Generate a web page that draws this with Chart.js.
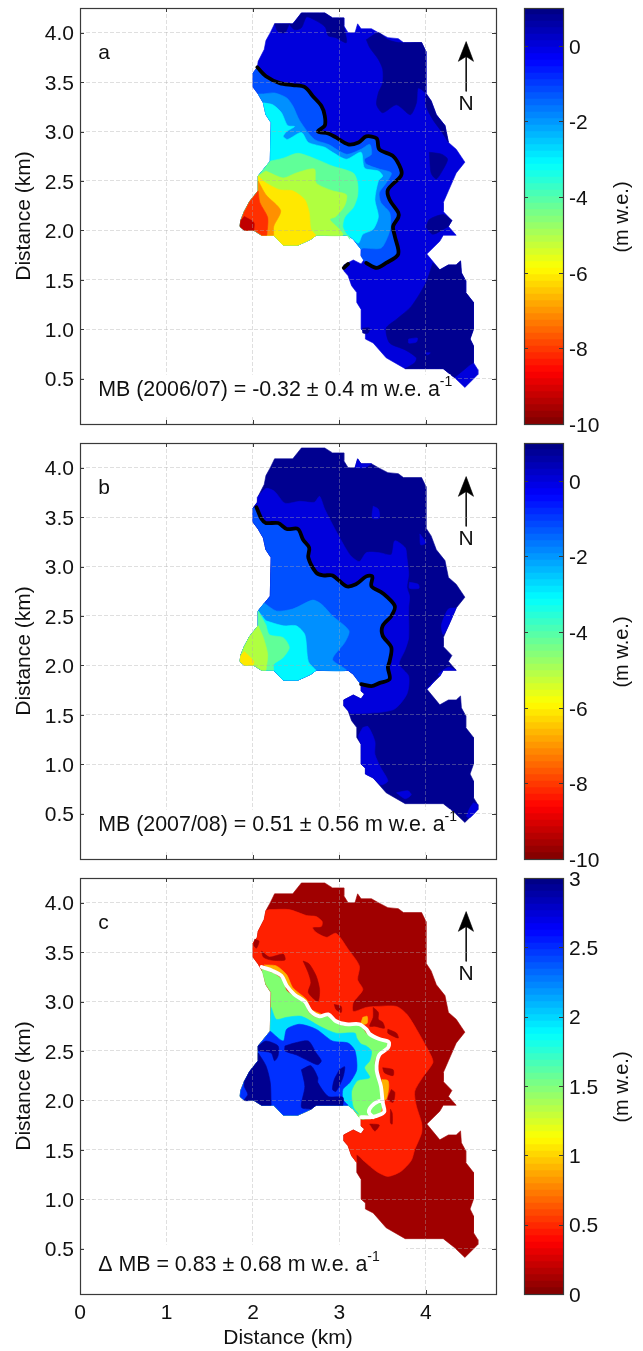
<!DOCTYPE html>
<html>
<head>
<meta charset="utf-8">
<title>Glacier mass balance maps</title>
<script src="https://cdn.jsdelivr.net/npm/chart.js@4"></script>
<style>
body { margin: 0; background: #fff; }
canvas { position: absolute; }
</style>
</head>
<body>
<canvas id="mapA" width="500" height="430" style="left:0;top:0"></canvas>
<canvas id="barA" width="138" height="440" style="left:505px;top:0"></canvas>
<canvas id="mapB" width="500" height="430" style="left:0;top:435px"></canvas>
<canvas id="barB" width="138" height="440" style="left:505px;top:435px"></canvas>
<canvas id="mapC" width="500" height="481" style="left:0;top:870px"></canvas>
<canvas id="barC" width="138" height="440" style="left:505px;top:870px"></canvas>
<script>
// Axis ticks
const xTicks = [0, 1, 2, 3, 4];
const yTicks = [0.5, 1.0, 1.5, 2.0, 2.5, 3.0, 3.5, 4.0];
const barTicksAB = [-10, -8, -6, -4, -2, 0];
const barTicksC = [0, 0.5, 1, 1.5, 2, 2.5, 3];

// a doubled point makes a hard corner in the spline, the glacier edge needs that
const sharp = list => list.flatMap(p => [p, p]);

// Glacier outline in km, split so the contour bands can share its edges
const rimEast = sharp([[2.56,4.20],[2.83,4.20],[2.92,4.15],[3.05,4.15],[3.05,4.07],[3.10,4.00],[3.18,4.00],[3.21,4.09],[3.25,4.04],[3.37,4.04],[3.45,4.00],[3.56,3.95],[3.68,3.94],[3.74,3.90],[3.95,3.90],[4.00,3.81],[4.00,3.39],[4.06,3.31],[4.12,3.17],[4.22,3.06],[4.26,2.89],[4.35,2.82],[4.45,2.69],[4.35,2.58],[4.26,2.40],[4.20,2.28],[4.20,2.19],[4.30,2.10],[4.26,2.04],[4.35,1.95],[4.20,1.95],[4.16,1.89],[4.01,1.76],[4.16,1.60],[4.26,1.65],[4.35,1.65],[4.40,1.69],[4.41,1.57],[4.46,1.49],[4.46,1.37],[4.55,1.27],[4.55,1.00],[4.51,0.90],[4.55,0.83],[4.55,0.66],[4.60,0.59],[4.60,0.54],[4.45,0.41],[4.33,0.51],[4.20,0.60],[3.76,0.60],[3.54,0.71],[3.39,0.86],[3.30,0.90],[3.30,0.96],[3.25,1.00],[3.25,1.20],[3.20,1.27],[3.20,1.37]]);
const rimSE = sharp([[3.14,1.44],[3.10,1.54],[3.05,1.59],[3.05,1.65],[3.16,1.70],[3.25,1.66],[3.29,1.71],[3.25,1.74],[3.25,1.81]]);
const rimSNear = sharp([[3.16,1.91],[3.10,1.95]]);
const rimSFar = sharp([[2.73,1.95],[2.67,1.91],[2.52,1.85],[2.35,1.85],[2.24,1.95]]);
const rimW = sharp([[2.10,1.95],[2.01,2.00],[1.90,2.00],[1.85,2.04],[1.86,2.10],[1.90,2.19],[1.96,2.29],[2.06,2.40],[2.06,2.55]]);
const rimNWLow = sharp([[2.20,2.70],[2.21,3.09],[2.15,3.17]]);
const rimNWHigh = sharp([[2.12,3.29],[2.06,3.38],[2.00,3.45],[2.00,3.59]]);
const rimTop = sharp([[2.05,3.65],[2.06,3.71],[2.13,3.83],[2.15,3.92],[2.20,4.00],[2.25,4.09],[2.46,4.09]]);
const outline = [...rimEast, ...rimSE, ...rimSNear, ...rimSFar, ...rimW, ...rimNWLow, ...rimNWHigh, ...rimTop];

// North arrow
const arrowShaft = [[4.465,3.41],[4.465,3.76]];
const arrowHead = [[4.465,3.91],[4.375,3.71],[4.465,3.76],[4.55,3.71]];

// Panel a
const elaA = [[2.05,3.65],[2.15,3.56],[2.31,3.49],[2.46,3.47],[2.60,3.45],[2.69,3.36],[2.79,3.26],[2.83,3.16],[2.83,3.06],[2.75,3.00],[2.87,2.98],[2.96,2.94],[3.10,2.87],[3.22,2.89],[3.31,2.95],[3.43,2.93],[3.46,2.82],[3.62,2.75],[3.71,2.62],[3.71,2.55],[3.56,2.41],[3.58,2.31],[3.68,2.18],[3.68,2.13],[3.62,2.04],[3.64,1.94],[3.68,1.76],[3.54,1.67],[3.43,1.62],[3.31,1.67]];
const elaAStub = [[3.05,1.62],[3.10,1.66]];
const aNavy = [
  [...sharp([[2.56,4.20],[2.83,4.20],[2.92,4.15],[3.05,4.15],[3.05,4.07]]),[3.08,3.90],[2.96,3.95],[2.87,3.97],[2.84,4.05],[2.79,4.09],[2.71,4.13],[2.62,4.16],[2.56,4.05],[2.48,4.03],[2.42,4.09],[2.46,4.09]],
  [[2.25,4.09],[2.25,4.09],[2.42,4.09],[2.42,4.09],[2.37,4.00],[2.29,4.01]],
  [[3.31,3.93],[3.45,4.00],[3.56,3.93],[3.68,3.90],...sharp([[3.95,3.90],[4.00,3.81],[4.00,3.39]]),[3.91,3.44],[3.89,3.29],[3.82,3.17],[3.66,3.27],[3.50,3.19],[3.43,3.27],[3.45,3.39],[3.50,3.49],[3.50,3.63],[3.45,3.73],[3.35,3.85]],
  [...sharp([[4.00,3.38],[4.06,3.31],[4.12,3.17],[4.22,3.06],[4.26,2.89]]),[4.18,3.00],[4.08,3.12],[4.00,3.26]],
  [[4.04,2.79],[4.18,2.77],[4.25,2.72],[4.20,2.62],[4.12,2.52],[4.06,2.58]],
  [[4.00,2.03],[4.04,2.11],[4.20,2.16],...sharp([[4.30,2.10],[4.26,2.04]]),[4.08,1.96]],
  [[4.08,1.67],...sharp([[4.16,1.60],[4.26,1.65],[4.35,1.65],[4.40,1.69],[4.41,1.57],[4.46,1.49],[4.46,1.37],[4.55,1.27],[4.55,1.00],[4.51,0.90],[4.55,0.83],[4.55,0.66],[4.51,0.64],[4.33,0.51],[4.20,0.60],[3.76,0.60]]),[3.87,0.66],[3.89,0.71],[3.76,0.79],[3.58,0.86],[3.54,1.01],[3.66,1.10],[3.83,1.23],[4.00,1.47]],
  [[3.27,1.01],[3.35,1.01],[3.33,0.96],[3.27,0.96]]
];
const aBlueSpots = [
  [[3.80,0.90],[3.90,0.91],[3.89,0.87],[3.80,0.86]],
  [[3.99,0.76],[4.05,0.76],[4.02,0.74]]
];
const aBand1 = [...elaA, [3.25,1.74], [3.25,1.81], ...rimSNear, ...rimSFar, ...rimW, ...rimNWLow, ...rimNWHigh];
const aBand2 = [[2.12,3.38],[2.25,3.39],[2.39,3.34],[2.46,3.26],[2.54,3.11],[2.71,2.92],[2.87,2.87],[3.08,2.77],[3.25,2.82],[3.35,2.87],[3.37,2.77],[3.29,2.72],[3.31,2.67],[3.46,2.62],[3.60,2.58],[3.54,2.48],[3.46,2.38],[3.48,2.28],[3.58,2.18],[3.59,2.04],[3.56,1.94],[3.48,1.82],[3.27,1.82],[3.25,1.81], ...rimSNear, ...rimSFar, ...rimW, ...rimNWLow, [2.12,3.29],[2.12,3.29],[2.06,3.38],[2.06,3.38]];
const aCyan = [[2.12,3.29],[2.23,3.27],[2.33,3.19],[2.40,3.06],[2.48,3.05],[2.39,3.00],[2.35,2.95],[2.40,2.92],[2.56,2.99],[2.64,2.89],[2.83,2.84],[2.92,2.79],[3.08,2.72],[3.25,2.79],[3.29,2.63],[3.45,2.60],[3.50,2.55],[3.45,2.50],[3.41,2.31],[3.45,2.14],[3.39,2.01],[3.27,1.96],[3.22,1.87], ...rimSNear, ...rimSFar, ...rimW, ...rimNWLow];
const aGreen = [[2.20,2.70],[2.20,2.70],[2.35,2.73],[2.52,2.78],[2.73,2.72],[2.92,2.65],[3.16,2.58],[3.21,2.48],[3.21,2.35],[3.16,2.23],[3.06,2.13],[3.04,2.03],[3.12,1.91],[3.10,1.95], ...rimSFar, ...rimW];
const aLime = [[2.15,2.60],[2.35,2.53],[2.50,2.58],[2.71,2.62],[2.73,2.48],[2.92,2.40],[3.08,2.36],[3.06,2.25],[2.96,2.14],[2.89,2.11],[3.00,2.01],[3.04,1.95], ...rimSFar, ...rimW];
const aYellow = [[2.06,2.55],[2.06,2.55],[2.15,2.48],[2.31,2.41],[2.46,2.40],[2.60,2.31],[2.65,2.18],[2.67,2.01], ...rimSFar, [2.10,1.95],[2.10,1.95],[2.06,2.40],[2.06,2.40]];
const aOrange = [[2.06,2.50],[2.06,2.50],[2.15,2.36],[2.32,2.20],[2.24,2.04],[2.24,1.95],[2.24,1.95],[2.10,1.95],[2.10,1.95],[2.06,2.40],[2.06,2.40]];
const aRed = [[2.06,2.40],[2.06,2.40],[2.08,2.28],[2.17,2.13],[2.16,1.95],[2.16,1.95],[2.10,1.95],[2.10,1.95],[2.01,2.00],[2.01,2.00],[1.90,2.00],[1.90,2.00],[1.85,2.04],[1.85,2.04],[1.86,2.10],[1.86,2.10],[1.90,2.19],[1.90,2.19],[1.96,2.29],[1.96,2.29]];
const aDarkRed = [[1.90,2.14],[1.90,2.14],[2.01,2.08],[2.01,2.00],[2.01,2.00],[1.90,2.00],[1.90,2.00],[1.85,2.04],[1.85,2.04],[1.86,2.10],[1.86,2.10]];

// Panel b
const elaB = [[2.04,3.60],[2.10,3.48],[2.15,3.44],[2.29,3.44],[2.39,3.38],[2.52,3.38],[2.58,3.27],[2.65,3.19],[2.64,3.09],[2.73,2.94],[2.81,2.91],[2.92,2.91],[3.08,2.80],[3.19,2.82],[3.31,2.90],[3.38,2.90],[3.37,2.80],[3.50,2.73],[3.64,2.60],[3.60,2.50],[3.50,2.40],[3.50,2.30],[3.60,2.18],[3.58,2.04],[3.56,1.98],[3.58,1.86],[3.46,1.82],[3.37,1.79],[3.25,1.81]];
const bBlue = [[2.05,3.70],[2.15,3.79],[2.25,3.76],[2.37,3.64],[2.54,3.66],[2.71,3.65],[2.77,3.71],[2.83,3.58],[2.96,3.36],[3.12,3.12],[3.23,3.05],[3.31,3.14],[3.46,3.14],[3.60,3.12],[3.64,3.26],[3.76,3.19],[3.78,3.09],[3.80,2.92],[3.78,2.79],[3.81,2.70],[3.80,2.58],[3.80,2.28],[3.76,2.16],[3.69,2.01],[3.80,1.89],[3.78,1.71],[3.62,1.55],[3.14,1.51],[3.10,1.54],[3.10,1.54],[3.05,1.59],[3.05,1.59],[3.05,1.65],[3.05,1.65],[3.16,1.70],[3.16,1.70],[3.25,1.66],[3.25,1.66],[3.29,1.71],[3.29,1.71],[3.25,1.74],[3.25,1.74],[3.25,1.81],[3.25,1.81], ...rimSNear, ...rimSFar, ...rimW, ...rimNWLow, ...rimNWHigh, [2.05,3.65],[2.05,3.65]];
const bBlueSpots = [
  [[3.39,3.61],[3.45,3.58],[3.46,3.49],[3.38,3.49]],
  [[3.93,3.33],[4.00,3.24],[3.94,3.22]],
  [[3.81,2.84],[3.91,2.82],[3.92,2.78],[3.81,2.78]],
  [[4.35,2.58],[4.35,2.58],[4.26,2.40],[4.26,2.40],[4.20,2.31],[4.18,2.41],[4.26,2.57]],
  [[4.14,1.91],[4.26,1.98],[4.35,1.95],[4.35,1.95],[4.20,1.95],[4.20,1.95],[4.16,1.89],[4.16,1.89]],
  [[4.01,1.76],[4.10,1.85],[4.04,1.78]],
  [[3.27,1.37],[3.33,1.38],[3.41,1.23],[3.41,1.10],[3.48,0.96],[3.56,0.83],[3.48,0.79],[3.39,0.86],[3.39,0.86],[3.30,0.90],[3.30,0.90],[3.30,0.96],[3.30,0.96],[3.25,1.00],[3.25,1.00],[3.25,1.20],[3.25,1.20],[3.22,1.28]],
  [[3.66,0.71],[3.79,0.73],[3.83,0.69],[3.76,0.65]],
  [[4.55,0.61],[4.60,0.59],[4.60,0.59],[4.60,0.54],[4.60,0.54],[4.51,0.46],[4.47,0.47],[4.51,0.56]],
  [[3.18,4.00],[3.18,4.00],[3.21,4.09],[3.21,4.09],[3.25,4.04],[3.25,4.04],[3.37,4.04],[3.37,4.04],[3.29,4.00]]
];
const bBand1 = [...elaB, ...rimSNear, ...rimSFar, ...rimW, ...rimNWLow, ...rimNWHigh];
const bBand2 = [[2.13,2.63],[2.27,2.55],[2.46,2.57],[2.69,2.66],[2.79,2.62],[2.92,2.50],[3.11,2.35],[3.06,2.23],[2.92,2.06],[3.08,1.95], ...rimSFar, ...rimW];
const bCyan = [[2.15,2.45],[2.35,2.40],[2.50,2.40],[2.60,2.31],[2.64,2.04], ...rimSFar, ...rimW];
const bGreen = [[2.15,2.41],[2.19,2.31],[2.35,2.28],[2.42,2.18],[2.35,2.08],[2.24,2.01],[2.24,1.95],[2.24,1.95], ...rimW];
const bLime = [[2.06,2.40],[2.06,2.40],[2.12,2.28],[2.17,2.11],[2.15,1.95],[2.15,1.95],[2.10,1.95],[2.10,1.95],[2.01,2.00],[2.01,2.00],[1.90,2.00],[1.90,2.00],[1.85,2.04],[1.85,2.04],[1.86,2.10],[1.86,2.10],[1.90,2.19],[1.90,2.19],[1.96,2.29],[1.96,2.29]];
const bYellow = [[1.90,2.14],[1.90,2.14],[2.01,2.04],[2.00,2.00],[2.00,2.00],[1.90,2.00],[1.90,2.00],[1.85,2.04],[1.85,2.04],[1.86,2.10],[1.86,2.10]];

// Panel c
const elaC = [[2.10,3.35],[2.23,3.31],[2.33,3.26],[2.39,3.16],[2.48,3.07],[2.60,3.00],[2.67,2.90],[2.77,2.85],[2.87,2.87],[2.96,2.80],[3.08,2.77],[3.23,2.77],[3.31,2.72],[3.35,2.67],[3.46,2.62],[3.57,2.59],[3.56,2.53],[3.46,2.46],[3.43,2.31],[3.48,2.14],[3.50,1.98],[3.52,1.89],[3.48,1.86],[3.37,1.83],[3.25,1.83]];
const elaCHook = [[3.39,1.83],[3.34,1.88],[3.37,1.94],[3.45,1.99],[3.50,1.99]];
const cRed = [[2.19,3.93],[2.42,3.93],[2.62,3.87],[2.73,3.86],[2.80,3.81],[2.79,3.76],[2.69,3.75],[2.73,3.70],[2.85,3.65],[2.96,3.69],[3.10,3.53],[3.23,3.36],[3.21,3.22],[3.27,3.12],[3.16,2.99],[3.16,2.90],[3.31,2.94],[3.43,2.95],[3.66,2.95],[3.78,2.87],[3.89,2.72],[4.06,2.45],[4.08,2.38],[3.96,2.23],[3.87,2.09],[3.89,1.94],[3.95,1.77],[3.95,1.67],[3.87,1.50],[3.83,1.39],[3.71,1.28],[3.56,1.23],[3.43,1.28],[3.29,1.38],[3.20,1.45],[3.20,1.37],[3.20,1.37], ...rimSE, ...rimSNear, ...rimSFar, ...rimW, ...rimNWLow, ...rimNWHigh, [2.05,3.65],[2.05,3.65],[2.06,3.71],[2.06,3.71],[2.13,3.83],[2.13,3.83],[2.15,3.92],[2.15,3.92]];
const cDarkSpots = [
  [[2.02,3.63],[2.07,3.61],[2.04,3.54],[2.01,3.57]],
  [[2.10,3.51],[2.19,3.45],[2.35,3.48],[2.37,3.42],[2.21,3.42],[2.12,3.45]],
  [[2.58,3.41],[2.65,3.38],[2.73,3.26],[2.77,3.12],[2.75,3.00],[2.64,3.09],[2.67,3.19],[2.64,3.29]],
  [[2.94,2.97],[3.02,2.95],[3.02,2.89],[2.96,2.92]],
  [[3.39,2.94],[3.45,2.89],[3.45,2.82],[3.50,2.79],[3.52,2.73],[3.41,2.75],[3.35,2.75],[3.39,2.84]],
  [[3.56,2.72],[3.66,2.68],[3.68,2.63],[3.56,2.68]],
  [[3.50,2.33],[3.62,2.31],[3.62,2.25],[3.52,2.28]],
  [[3.60,2.11],[3.64,2.08],[3.62,1.98],[3.56,2.01]],
  [[3.59,1.91],[3.61,1.87],[3.61,1.76],[3.59,1.77]],
  [[3.35,1.76],[3.46,1.75],[3.41,1.69]]
];
const cOrangeSpots = [
  [[2.13,3.37],[2.27,3.36],[2.39,3.27],[2.46,3.14],[2.62,3.02],[2.67,2.92],[2.79,2.87],[2.77,2.84],[2.60,2.99],[2.39,3.16],[2.33,3.26],[2.23,3.31]],
  [[3.27,2.84],[3.32,2.85],[3.32,2.78],[3.25,2.77]],
  [[3.49,2.21],[3.56,2.20],[3.57,2.13],[3.54,2.01],[3.50,2.01]],
  [[3.37,1.91],[3.43,1.97],[3.49,1.94],[3.48,1.86],[3.43,1.83],[3.37,1.84]],
  [[2.38,3.01],[2.42,3.01],[2.40,2.97]]
];
const cGreen = [[2.10,3.33],[2.23,3.29],[2.35,3.21],[2.39,3.11],[2.60,2.99],[2.64,2.90],[2.73,2.84],[2.87,2.85],[2.96,2.79],[3.08,2.75],[3.23,2.77],[3.31,2.68],[3.43,2.62],[3.56,2.57],[3.46,2.46],[3.41,2.40],[3.43,2.26],[3.48,2.14],[3.50,1.98],[3.46,1.86],[3.35,1.82],[3.25,1.81], ...rimSNear, ...rimSFar, ...rimW, ...rimNWLow];
const cCyan = [[2.21,2.94],[2.21,2.94],[2.27,2.82],[2.39,2.84],[2.56,2.85],[2.77,2.75],[2.96,2.68],[3.18,2.68],[3.20,2.63],[3.25,2.57],[3.31,2.55],[3.37,2.50],[3.35,2.40],[3.29,2.33],[3.35,2.23],[3.21,2.20],[3.14,2.09],[3.16,1.93],[3.22,1.86], ...rimSNear, ...rimSFar, ...rimW, [2.20,2.70],[2.20,2.70]];
const cBlue = [[2.20,2.70],[2.20,2.70],[2.35,2.60],[2.39,2.72],[2.54,2.77],[2.73,2.72],[2.92,2.60],[3.10,2.58],[3.18,2.50],[3.20,2.31],[3.12,2.18],[3.04,2.11],[3.04,2.01],[3.10,1.95],[3.10,1.95], ...rimSFar, ...rimW];
const cNavySpots = [
  [[2.06,2.55],[2.06,2.55],[2.15,2.60],[2.29,2.55],[2.29,2.45],[2.25,2.40],[2.21,2.48],[2.06,2.50],[2.06,2.50]],
  [[2.06,2.48],[2.06,2.48],[2.15,2.35],[2.20,2.18],[2.21,1.95],[2.21,1.95],[2.10,1.95],[2.10,1.95],[2.01,2.00],[2.01,2.00],[1.90,2.00],[1.94,2.06],[1.90,2.14],[1.90,2.19],[1.90,2.19],[1.96,2.29],[1.96,2.29],[2.06,2.40],[2.06,2.40]],
  [[2.37,2.55],[2.48,2.58],[2.64,2.60],[2.73,2.48],[2.79,2.40],[2.75,2.36],[2.64,2.40],[2.50,2.46],[2.37,2.50]],
  [[2.56,2.31],[2.67,2.35],[2.75,2.23],[2.75,2.18],[2.87,2.04],[3.04,2.03],[3.04,1.95],[3.04,1.95],[2.73,1.95],[2.73,1.95],[2.67,1.91],[2.67,1.91],[2.56,1.93],[2.60,2.14]],
  [[3.00,2.31],[3.06,2.34],[3.04,2.23],[2.96,2.09],[2.92,2.11],[2.94,2.21]]
];

// Annotations
const letters = ['a', 'b', 'c'];
const notes = ['MB (2006/07) = -0.32 \u00b1 0.4 m w.e. a', 'MB (2007/08) = 0.51 \u00b1 0.56 m w.e. a', '\u0394 MB = 0.83 \u00b1 0.68 m w.e. a'];

const FONT = '"Liberation Sans", Arial, sans-serif';
const INK = '#111';
const FRAME = '#3a3a3a';
const GRID = 'rgba(170,170,170,0.38)';
const NAVY = '#000090', BLUE = '#0000dc', ROYAL = '#0050ff', SKY = '#0090ff', CYAN = '#00f8ff';
const GREEN = '#60ff98', LIME = '#b0ff40', YELLOW = '#ffe800', ORANGE = '#ff9000', RED = '#ff3000', MAROON = '#c00000';

Chart.defaults.font.family = FONT;
Chart.defaults.font.size = 21;
Chart.defaults.color = INK;

const pts = list => list.map(p => ({x: p[0], y: p[1]}));

function layer(list, color, tension = 0.25) {
  const closed = list.concat([list[0]]);
  return {data: pts(closed), showLine: true, fill: 'shape', tension: tension, backgroundColor: color, borderColor: color, borderWidth: 0.6, pointRadius: 0};
}

function line(list, color, width, tension) {
  return {data: pts(list), showLine: true, fill: false, borderColor: color, borderWidth: width, tension: tension, pointRadius: 0, borderCapStyle: 'round', borderJoinStyle: 'round'};
}

function inwardTicks(ctx, chart, xScale, yScale, len) {
  const a = chart.chartArea;
  ctx.strokeStyle = FRAME;
  ctx.lineWidth = 1;
  ctx.beginPath();
  if (xScale) xScale.ticks.forEach(t => {
    const px = Math.round(xScale.getPixelForValue(t.value)) + 0.5;
    ctx.moveTo(px, a.top); ctx.lineTo(px, a.top + len);
    ctx.moveTo(px, a.bottom); ctx.lineTo(px, a.bottom - len);
  });
  yScale.ticks.forEach(t => {
    const py = Math.round(yScale.getPixelForValue(t.value)) + 0.5;
    ctx.moveTo(a.left, py); ctx.lineTo(a.left + len, py);
    ctx.moveTo(a.right, py); ctx.lineTo(a.right - len, py);
  });
  ctx.stroke();
}

function frame(ctx, chart) {
  const a = chart.chartArea;
  ctx.strokeStyle = FRAME;
  ctx.lineWidth = 1.2;
  ctx.strokeRect(a.left + 0.5, a.top + 0.5, a.right - a.left, a.bottom - a.top);
}

// box is the white patch MATLAB left behind the text, [x0, x1, y0, y1] in km
function mapChart(id, layers, idx, noteY, box, withAxis) {
  const plugin = {
    id: 'decor',
    afterDraw(chart) {
      const ctx = chart.ctx, sx = chart.scales.x, sy = chart.scales.y;
      ctx.save();
      inwardTicks(ctx, chart, sx, sy, 4);
      ctx.fillStyle = '#fff';
      ctx.fillRect(sx.getPixelForValue(box[0]), sy.getPixelForValue(box[3]), sx.getPixelForValue(box[1]) - sx.getPixelForValue(box[0]), sy.getPixelForValue(box[2]) - sy.getPixelForValue(box[3]));
      frame(ctx, chart);
      ctx.fillStyle = INK;
      ctx.font = '21px ' + FONT;
      ctx.textBaseline = 'middle';
      ctx.fillText(letters[idx], sx.getPixelForValue(0.21), sy.getPixelForValue(3.79));
      ctx.textAlign = 'center';
      ctx.fillText('N', sx.getPixelForValue(4.465), sy.getPixelForValue(3.28));
      ctx.textAlign = 'left';
      ctx.textBaseline = 'alphabetic';
      ctx.font = '21.4px ' + FONT;
      const nx = sx.getPixelForValue(0.21), ny = sy.getPixelForValue(noteY);
      ctx.fillText(notes[idx], nx, ny);
      const w = ctx.measureText(notes[idx]).width;
      ctx.font = '14px ' + FONT;
      ctx.fillText('-1', nx + w, ny - 10);
      ctx.restore();
    }
  };
  const sets = layers.concat([layer(arrowHead, '#000', 0), line(arrowShaft, '#000', 1.5, 0)]);
  new Chart(document.getElementById(id), {
    type: 'scatter',
    data: {datasets: sets.slice().reverse()},
    options: {
      responsive: false,
      animation: false,
      layout: {padding: {top: 8, right: 4, left: 0, bottom: 0}},
      plugins: {legend: {display: false}, tooltip: {enabled: false}},
      scales: {
        x: {
          min: 0, max: 4.81,
          afterBuildTicks: s => { s.ticks = xTicks.map(v => ({value: v})); },
          afterFit: s => { s.height = withAxis ? 57 : 6; s.paddingLeft = 0; s.paddingRight = 0; },
          ticks: {display: withAxis, padding: 7, maxRotation: 0, autoSkip: false, callback: v => String(v)},
          grid: {color: GRID, drawTicks: false, z: 1},
          border: {display: false, dash: [4, 2]},
          title: {display: withAxis, text: 'Distance (km)', padding: 0}
        },
        y: {
          min: 0.04, max: 4.25,
          afterBuildTicks: s => { s.ticks = yTicks.map(v => ({value: v})); },
          afterFit: s => { s.width = 80; s.paddingTop = 0; s.paddingBottom = 0; },
          ticks: {padding: 6, labelOffset: 2, autoSkip: false, callback: v => v.toFixed(1)},
          grid: {color: GRID, drawTicks: false, z: 1},
          border: {display: false, dash: [4, 2]},
          title: {display: true, text: 'Distance (km)', padding: {top: 12, bottom: 0}}
        }
      }
    },
    plugins: [plugin]
  });
}

// jet colormap, the 64 step MATLAB one
function jet(t) {
  const c = v => Math.round(255 * Math.max(0, Math.min(1, v)));
  return `rgb(${c(1.5 - Math.abs(4 * t - 3))},${c(1.5 - Math.abs(4 * t - 2))},${c(1.5 - Math.abs(4 * t - 1))})`;
}

function barChart(id, lo, hi, ticks) {
  const sets = [];
  for (let i = 0; i < 64; i++) {
    sets.push({data: [[lo, lo + (hi - lo) * (i + 1) / 64]], backgroundColor: jet(1 - (i + 0.5) / 64), borderWidth: 0, barPercentage: 1, categoryPercentage: 1, grouped: false});
  }
  const plugin = {
    id: 'barDecor',
    afterDraw(chart) {
      const ctx = chart.ctx;
      ctx.save();
      inwardTicks(ctx, chart, null, chart.scales.y, 4);
      frame(ctx, chart);
      ctx.translate(117, 217);
      ctx.rotate(-Math.PI / 2);
      ctx.fillStyle = INK;
      ctx.font = '20px ' + FONT;
      ctx.textAlign = 'center';
      ctx.textBaseline = 'middle';
      ctx.fillText('(m w.e.)', 0, 0);
      ctx.restore();
    }
  };
  new Chart(document.getElementById(id), {
    type: 'bar',
    data: {labels: [''], datasets: sets},
    options: {
      responsive: false,
      animation: false,
      layout: {padding: {top: 8, left: 19, right: 0, bottom: 16}},
      plugins: {legend: {display: false}, tooltip: {enabled: false}},
      scales: {
        x: {display: false},
        y: {
          position: 'right',
          min: lo, max: hi,
          afterBuildTicks: s => { s.ticks = ticks.map(v => ({value: v})); },
          afterFit: s => { s.width = 80; s.paddingTop = 0; s.paddingBottom = 0; },
          ticks: {padding: 6, labelOffset: 2, autoSkip: false, callback: v => String(v)},
          grid: {display: false, drawTicks: false},
          border: {display: false}
        }
      }
    },
    plugins: [plugin]
  });
}

mapChart('mapA', [
  layer(outline, BLUE, 0),
  ...aNavy.map(p => layer(p, NAVY)),
  ...aBlueSpots.map(p => layer(p, BLUE)),
  layer(aBand1, ROYAL), layer(aBand2, SKY), layer(aCyan, CYAN), layer(aGreen, GREEN), layer(aLime, LIME),
  layer(aYellow, YELLOW), layer(aOrange, ORANGE), layer(aRed, RED), layer(aDarkRed, MAROON),
  line(elaA, '#000', 3.8, 0.3), line(elaAStub, '#000', 3.8, 0)
], 0, 0.32, [0.07, 4.29, 0.11, 0.54], false);

mapChart('mapB', [
  layer(outline, NAVY, 0),
  layer(bBlue, BLUE),
  ...bBlueSpots.map(p => layer(p, BLUE)),
  layer(bBand1, ROYAL), layer(bBand2, SKY), layer(bCyan, CYAN), layer(bGreen, GREEN), layer(bLime, LIME), layer(bYellow, YELLOW),
  line(elaB, '#000', 3.8, 0.3)
], 1, 0.32, [0.07, 4.29, 0.11, 0.54], false);

mapChart('mapC', [
  layer(outline, '#a00000', 0),
  layer(cRed, '#ff2000'),
  ...cDarkSpots.map(p => layer(p, '#a00000')),
  ...cOrangeSpots.map(p => layer(p, '#ffb000')),
  layer(cGreen, '#80ff70'), layer(cCyan, '#00e0ff'), layer(cBlue, '#0030ff'),
  ...cNavySpots.map(p => layer(p, NAVY)),
  line(elaC, '#fff', 3.8, 0.3), line(elaCHook, '#fff', 3.8, 0.3)
], 2, 0.27, [0.07, 3.77, 0.04, 0.54], true);

barChart('barA', -10, 1, barTicksAB);
barChart('barB', -10, 1, barTicksAB);
barChart('barC', 0, 3, barTicksC);
</script>
</body>
</html>
